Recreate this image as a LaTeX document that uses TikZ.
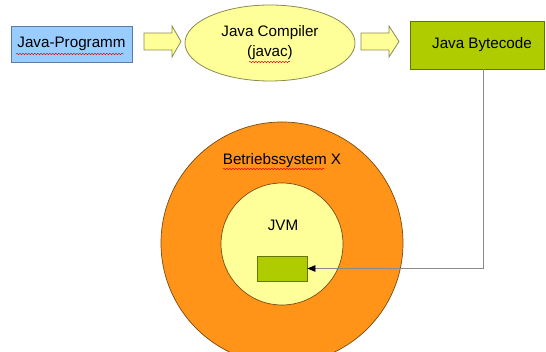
\documentclass[tikz,border=0pt]{standalone}
\usepackage{fontspec}
\setmainfont{Liberation Sans}
\usetikzlibrary{arrows.meta,shapes.geometric,decorations.pathmorphing}

\definecolor{progblue}{HTML}{99CCFF}
\definecolor{progedge}{HTML}{5A7AA8}
\definecolor{paleyellow}{HTML}{FFFF99}
\definecolor{yellowedge}{HTML}{8C8C50}
\definecolor{limegreen}{HTML}{AECC00}
\definecolor{greenedge}{HTML}{5E7800}
\definecolor{osorange}{HTML}{FF9419}
\definecolor{orangeedge}{HTML}{7A4A12}
\definecolor{linkgray}{HTML}{8A8A8A}

\tikzset{
  lbl/.style={font=\fontsize{15.2}{18}\selectfont, align=center, inner sep=0pt},
  progbox/.style={draw=progedge, fill=progblue, line width=0.8pt, minimum width=121pt, minimum height=36pt, lbl},
  compiler/.style={ellipse, draw=yellowedge, fill=paleyellow, line width=0.8pt, minimum width=170pt, minimum height=76pt, lbl},
  bytebox/.style={draw=greenedge, fill=limegreen, line width=0.8pt, minimum width=134pt, minimum height=48pt, lbl},
  blockarrow/.style={draw=yellowedge, fill=paleyellow, line width=0.8pt, line join=miter},
  osdisc/.style={circle, draw=orangeedge, fill=osorange, line width=0.7pt, minimum size=242pt, inner sep=0pt},
  jvmdisc/.style={circle, draw=orangeedge, fill=paleyellow, line width=0.7pt, minimum size=122pt, inner sep=0pt},
  slot/.style={draw=greenedge, fill=limegreen, line width=0.8pt, minimum width=50pt, minimum height=25pt, inner sep=0pt},
  squiggle/.style={draw=red!85!black, line width=0.45pt, decorate, decoration={snake, amplitude=0.7pt, segment length=3pt}},
  link/.style={draw=linkgray, line width=0.8pt, -{Triangle[length=8pt,width=6.5pt,fill=black,color=black]}}
}

\begin{document}
\begin{tikzpicture}[x=1pt,y=-1pt]
  \useasboundingbox (0,0) rectangle (546,352);
  \clip (0,0) rectangle (546,352);

  % top row: source -> compiler -> bytecode
  \node[progbox] (prog) at (71.5,44) {Java-Programm};
  \node[compiler] (javac) at (270,43) {Java Compiler\\[2pt](javac)};
  \node[bytebox] (bytecode) at (477,45) {\hspace*{10pt}Java Bytecode};

  % block arrows between the stages
  \draw[blockarrow] (144,33) -- (172,33) -- (172,26) -- (181,41.5) -- (172,57) -- (172,50) -- (144,50) -- cycle;
  \draw[blockarrow] (361,33) -- (389,33) -- (389,26) -- (399,41.5) -- (389,57) -- (389,50) -- (361,50) -- cycle;

  % spell-check squiggles
  \draw[squiggle] (16,54) -- (124,54);
  \draw[squiggle] (249,62) -- (290,62);

  % operating system with the JVM inside
  \node[osdisc] (os) at (282,243) {};
  \node[lbl] (ostext) at (282,161) {Betriebssystem X};
  \draw[squiggle] (223,169) -- (325,169);
  \node[jvmdisc] (jvm) at (282,244) {};
  \node[lbl] (jvmtext) at (283,225) {JVM};
  \node[slot] (loaded) at (282,268.5) {};

  % bytecode is loaded into the JVM
  \draw[link] ([xshift=6pt]bytecode.south) |- (loaded.east);
\end{tikzpicture}
\end{document}
